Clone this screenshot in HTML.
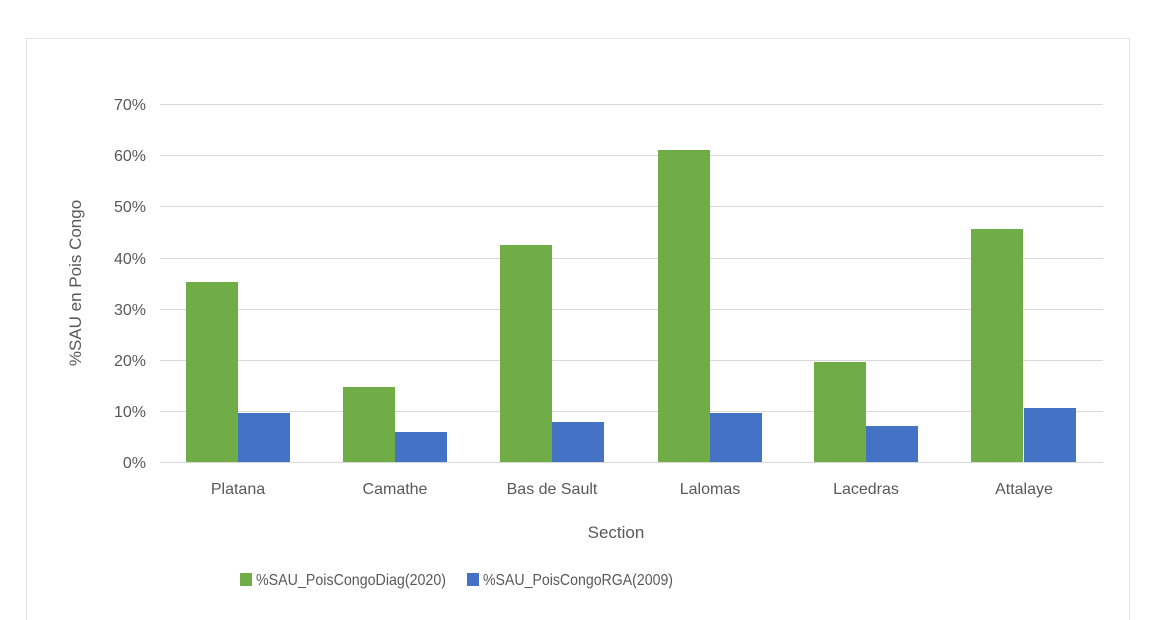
<!DOCTYPE html>
<html><head><meta charset="utf-8"><style>
html,body{margin:0;padding:0;background:#fff;width:1170px;height:620px;overflow:hidden}
text{font-family:"Liberation Sans","DejaVu Sans",sans-serif;fill:#595959}
</style></head><body>
<svg width="1170" height="620" xmlns="http://www.w3.org/2000/svg">
<rect x="26.5" y="38.5" width="1103" height="600" fill="#fff" stroke="#e3e3e3"/>
<g stroke="#d9d9d9" stroke-width="1">
<line x1="160" x2="1103" y1="104.5" y2="104.5"/>
<line x1="160" x2="1103" y1="155.5" y2="155.5"/>
<line x1="160" x2="1103" y1="206.5" y2="206.5"/>
<line x1="160" x2="1103" y1="258.5" y2="258.5"/>
<line x1="160" x2="1103" y1="309.5" y2="309.5"/>
<line x1="160" x2="1103" y1="360.5" y2="360.5"/>
<line x1="160" x2="1103" y1="411.5" y2="411.5"/>
<line x1="160" x2="1103" y1="462.5" y2="462.5"/>
</g>
<g font-size="16" text-anchor="end">
<text x="146" y="110">70%</text><text x="146" y="161">60%</text><text x="146" y="212">50%</text>
<text x="146" y="264">40%</text><text x="146" y="315">30%</text><text x="146" y="366">20%</text>
<text x="146" y="417">10%</text><text x="146" y="468">0%</text>
</g>
<g fill="#70ad47">
<rect x="186" y="282" width="52" height="180"/>
<rect x="343" y="387" width="52" height="75"/>
<rect x="500" y="245" width="52" height="217"/>
<rect x="658" y="150" width="52" height="312"/>
<rect x="814" y="362" width="52" height="100"/>
<rect x="971" y="229" width="52" height="233"/>
</g>
<g fill="#4472c4">
<rect x="238" y="413" width="52" height="49"/>
<rect x="395" y="432" width="52" height="30"/>
<rect x="552" y="422" width="52" height="40"/>
<rect x="710" y="413" width="52" height="49"/>
<rect x="866" y="426" width="52" height="36"/>
<rect x="1024" y="408" width="52" height="54"/>
</g>
<g font-size="16" text-anchor="middle">
<text x="238" y="494">Platana</text><text x="395" y="494">Camathe</text><text x="552" y="494">Bas de Sault</text>
<text x="710" y="494">Lalomas</text><text x="866" y="494">Lacedras</text><text x="1024" y="494">Attalaye</text>
<text x="616" y="538" font-size="17">Section</text>
</g>
<text transform="translate(81,283) rotate(-90)" font-size="17" text-anchor="middle">%SAU en Pois Congo</text>
<rect x="240" y="573" width="12" height="13" fill="#70ad47"/>
<text x="256" y="585" font-size="16" textLength="190" lengthAdjust="spacingAndGlyphs">%SAU_PoisCongoDiag(2020)</text>
<rect x="467" y="573" width="12" height="13" fill="#4472c4"/>
<text x="483" y="585" font-size="16" textLength="190" lengthAdjust="spacingAndGlyphs">%SAU_PoisCongoRGA(2009)</text>
</svg>
</body></html>
